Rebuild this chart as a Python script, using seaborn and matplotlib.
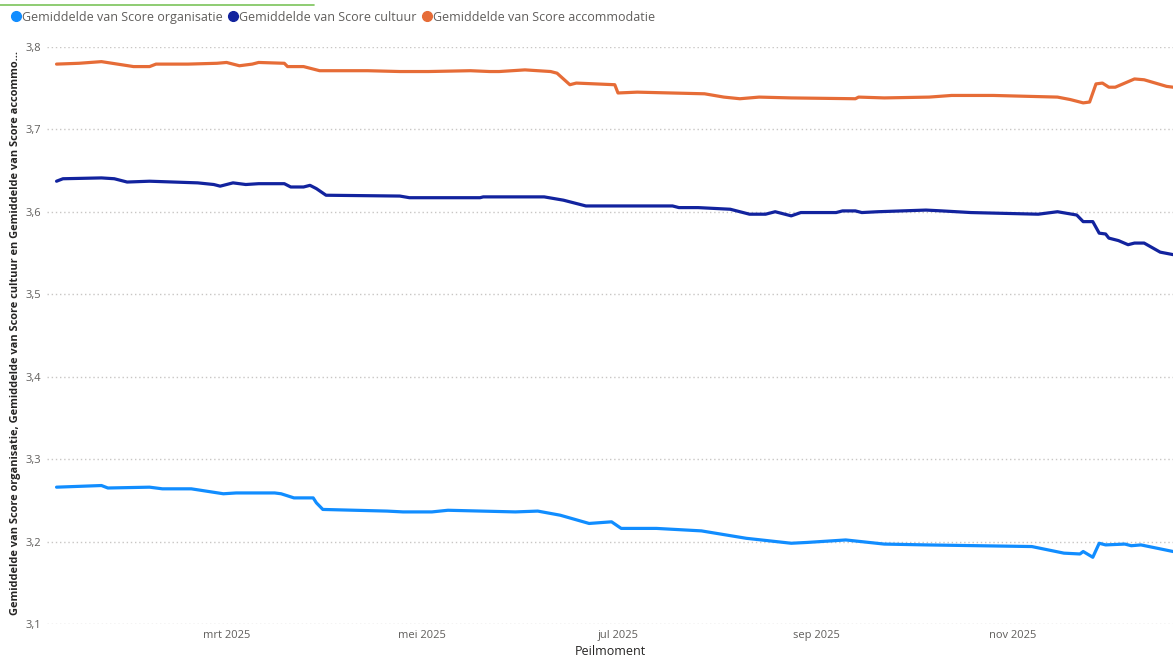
import pandas as pd
import numpy as np
import seaborn as sns
import matplotlib.pyplot as plt
import matplotlib.dates as mdates
from matplotlib.lines import Line2D
from matplotlib.ticker import FuncFormatter, FixedLocator

# Series (Peilmoment, gemiddelde score)
org_dates = ["2025-01-07", "2025-01-21", "2025-01-23", "2025-02-05", "2025-02-09", "2025-02-18",
             "2025-02-28", "2025-03-04", "2025-03-16", "2025-03-18", "2025-03-22", "2025-03-28",
             "2025-03-29", "2025-03-31", "2025-04-20", "2025-04-25", "2025-05-04", "2025-05-09",
             "2025-05-30", "2025-06-06", "2025-06-13", "2025-06-22", "2025-06-29", "2025-07-02",
             "2025-07-13", "2025-07-27", "2025-08-10", "2025-08-24", "2025-08-29", "2025-09-10",
             "2025-09-22", "2025-10-05", "2025-11-07", "2025-11-17", "2025-11-22", "2025-11-23",
             "2025-11-26", "2025-11-28", "2025-11-30", "2025-12-06", "2025-12-08", "2025-12-11",
             "2025-12-21"]
org_vals = [3.266, 3.268, 3.265, 3.266, 3.264, 3.264,
            3.258, 3.259, 3.259, 3.258, 3.253, 3.253,
            3.247, 3.239, 3.237, 3.236, 3.236, 3.238,
            3.236, 3.237, 3.232, 3.222, 3.224, 3.216,
            3.216, 3.213, 3.204, 3.198, 3.199, 3.202,
            3.197, 3.196, 3.194, 3.186, 3.185, 3.188,
            3.181, 3.198, 3.196, 3.197, 3.195, 3.196,
            3.188]

cult_dates = ["2025-01-07", "2025-01-09", "2025-01-21", "2025-01-25", "2025-01-29", "2025-02-05",
              "2025-02-20", "2025-02-25", "2025-02-27", "2025-03-03", "2025-03-07", "2025-03-11",
              "2025-03-19", "2025-03-21", "2025-03-25", "2025-03-27", "2025-03-29", "2025-04-01",
              "2025-04-24", "2025-04-27", "2025-05-19", "2025-05-20", "2025-06-08", "2025-06-14",
              "2025-06-21", "2025-07-18", "2025-07-20", "2025-07-26", "2025-08-05", "2025-08-11",
              "2025-08-16", "2025-08-19", "2025-08-24", "2025-08-27", "2025-09-07", "2025-09-09",
              "2025-09-13", "2025-09-15", "2025-09-20", "2025-10-05", "2025-10-10", "2025-10-19",
              "2025-11-09", "2025-11-15", "2025-11-21", "2025-11-23", "2025-11-26", "2025-11-28",
              "2025-11-30", "2025-12-01", "2025-12-04", "2025-12-07", "2025-12-09", "2025-12-12",
              "2025-12-17", "2025-12-21"]
cult_vals = [3.637, 3.640, 3.641, 3.640, 3.636, 3.637,
             3.635, 3.633, 3.631, 3.635, 3.633, 3.634,
             3.634, 3.630, 3.630, 3.632, 3.628, 3.620,
             3.619, 3.617, 3.617, 3.618, 3.618, 3.614,
             3.607, 3.607, 3.605, 3.605, 3.603, 3.597,
             3.597, 3.600, 3.595, 3.599, 3.599, 3.601,
             3.601, 3.599, 3.600, 3.602, 3.601, 3.599,
             3.597, 3.600, 3.596, 3.588, 3.588, 3.574,
             3.573, 3.568, 3.565, 3.560, 3.562, 3.562,
             3.551, 3.548]

acc_dates = ["2025-01-07", "2025-01-14", "2025-01-21", "2025-01-26", "2025-01-31", "2025-02-05",
             "2025-02-07", "2025-02-17", "2025-02-26", "2025-03-01", "2025-03-05", "2025-03-09",
             "2025-03-11", "2025-03-19", "2025-03-20", "2025-03-25", "2025-03-30", "2025-04-14",
             "2025-04-24", "2025-05-03", "2025-05-16", "2025-05-22", "2025-05-25", "2025-06-02",
             "2025-06-10", "2025-06-12", "2025-06-16", "2025-06-18", "2025-06-30", "2025-07-01",
             "2025-07-07", "2025-07-28", "2025-08-03", "2025-08-08", "2025-08-14", "2025-08-24",
             "2025-09-13", "2025-09-14", "2025-09-22", "2025-10-06", "2025-10-13", "2025-10-26",
             "2025-11-15", "2025-11-19", "2025-11-23", "2025-11-25", "2025-11-27", "2025-11-29",
             "2025-12-01", "2025-12-03", "2025-12-09", "2025-12-12", "2025-12-19", "2025-12-21"]
acc_vals = [3.779, 3.780, 3.782, 3.779, 3.776, 3.776,
            3.779, 3.779, 3.780, 3.781, 3.777, 3.779,
            3.781, 3.780, 3.776, 3.776, 3.771, 3.771,
            3.770, 3.770, 3.771, 3.770, 3.770, 3.772,
            3.770, 3.768, 3.754, 3.756, 3.754, 3.744,
            3.745, 3.743, 3.739, 3.737, 3.739, 3.738,
            3.737, 3.739, 3.738, 3.739, 3.741, 3.741,
            3.739, 3.736, 3.732, 3.733, 3.755, 3.756,
            3.751, 3.751, 3.761, 3.760, 3.752, 3.751]

series_names = ["Gemiddelde van Score organisatie", "Gemiddelde van Score cultuur",
                "Gemiddelde van Score accommodatie"]
series_colors = ["#118DFF", "#12239E", "#E66C37"]

tick_dates = ["2025-03-01", "2025-05-01", "2025-07-01", "2025-09-01", "2025-11-01"]
tick_labels = ["mrt 2025", "mei 2025", "jul 2025", "sep 2025", "nov 2025"]
y_ticks = [3.1, 3.2, 3.3, 3.4, 3.5, 3.6, 3.7, 3.8]

# long-format tabel voor seaborn
frames = []
for name, d, v in zip(series_names, [org_dates, cult_dates, acc_dates], [org_vals, cult_vals, acc_vals]):
    frames.append(pd.DataFrame({"Peilmoment": pd.to_datetime(d), "Score": v, "Reeks": name}))
df = pd.concat(frames, ignore_index=True)

sns.set_style("white")
plt.rcParams["font.family"] = ["Open Sans", "DejaVu Sans"]

fig = plt.figure(figsize=(11.73, 6.59), dpi=100)
ax = fig.add_axes([0.040, 0.053, 0.960, 0.876])

sns.lineplot(data=df, x="Peilmoment", y="Score", hue="Reeks", hue_order=series_names,
             palette=series_colors, linewidth=2.3, legend=False, ax=ax)

ax.set_ylim(3.1, 3.8)
ax.set_xlim(pd.Timestamp("2025-01-04"), pd.Timestamp("2025-12-21"))
ax.yaxis.set_major_locator(FixedLocator(y_ticks))
ax.yaxis.set_major_formatter(FuncFormatter(lambda v, p: f"{v:.1f}".replace(".", ",")))
ax.xaxis.set_major_locator(FixedLocator(mdates.date2num(pd.to_datetime(tick_dates))))
ax.set_xticklabels(tick_labels)

for yv in y_ticks:
    ax.axhline(yv, color="#C8C6C4", linewidth=1, linestyle=(0, (1, 2)), zorder=0)
for s in ax.spines.values():
    s.set_visible(False)
ax.tick_params(axis="both", length=0, labelsize=8, labelcolor="#605E5C", pad=4)
ax.tick_params(axis="y", pad=4)

ax.set_xlabel("Peilmoment", fontsize=9, color="#252423", labelpad=3)
ax.set_ylabel("Gemiddelde van Score organisatie, Gemiddelde van Score cultuur en Gemiddelde van Score accommo...",
              fontsize=7.9, fontweight="bold", color="#252423")
ax.yaxis.set_label_coords(-0.023, 0.505)

# legenda bovenaan
handles = [Line2D([], [], marker="o", linestyle="none", markersize=7, color=c) for c in series_colors]
fig.legend(handles, series_names, loc="upper left", bbox_to_anchor=(0.002, 0.995), ncol=3,
           frameon=False, fontsize=9, labelcolor="#605E5C", handletextpad=0.0,
           columnspacing=0.3, handlelength=1.0, borderaxespad=0.2)

# groene lijn bovenaan
fig.add_artist(Line2D([0.0, 0.268], [0.992, 0.992], color="#7CC35A", linewidth=1.2,
                      transform=fig.transFigure))

fig.savefig("out.png", dpi=100)
